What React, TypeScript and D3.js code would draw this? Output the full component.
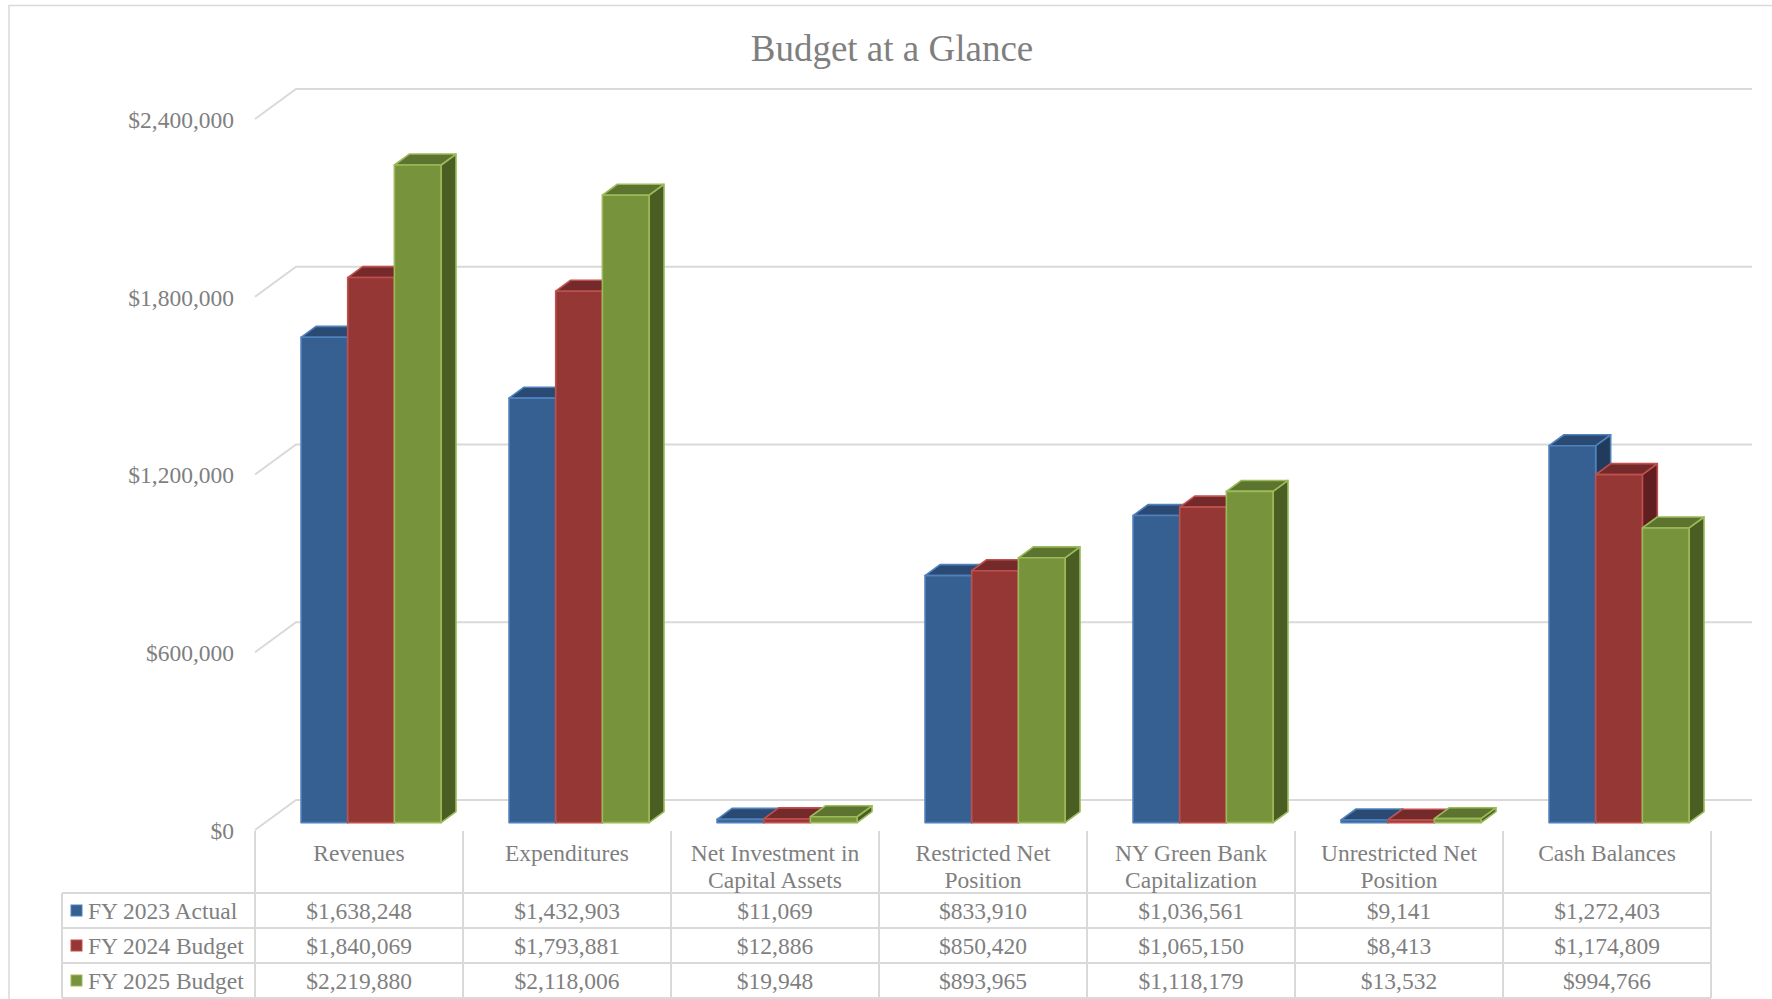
import * as d3 from "d3";
import { useEffect, useRef } from "react";

// chart data
const categories = [
  "Revenues",
  "Expenditures",
  "Net Investment in Capital Assets",
  "Restricted Net Position",
  "NY Green Bank Capitalization",
  "Unrestricted Net Position",
  "Cash Balances",
];
const seriesNames = ["FY 2023 Actual", "FY 2024 Budget", "FY 2025 Budget"];
const fy2023Actual = [1638248, 1432903, 11069, 833910, 1036561, 9141, 1272403];
const fy2024Budget = [1840069, 1793881, 12886, 850420, 1065150, 8413, 1174809];
const fy2025Budget = [2219880, 2118006, 19948, 893965, 1118179, 13532, 994766];
const yTicks = [0, 600000, 1200000, 1800000, 2400000];

const seriesValues = [fy2023Actual, fy2024Budget, fy2025Budget];

// face colours per series: front, top, side, outline
const palette = [
  { front: "#376092", top: "#2b4a73", side: "#213b5c", line: "#4f81bd" },
  { front: "#953735", top: "#74292a", side: "#5f1f21", line: "#c0504d" },
  { front: "#77933c", top: "#5d7430", side: "#4a5e23", line: "#9bbb59" },
];

const WIDTH = 1772;
const HEIGHT = 999;
const FONT = "'Liberation Serif', 'Times New Roman', serif";
const TEXT = "#7f7f7f";
const GRID = "#d9d9d9";
const TY = 3.5; // nudge for text vertical centring

// floor / depth geometry
const FLOOR_X0 = 255;
const FLOOR_X1 = 1711;
const DX = 41;
const DY = -30;
const T1 = 0.245; // bar front plane
const T2 = 0.61; // bar back plane

const fmt = (v: number) => "$" + d3.format(",")(v);

const BudgetChart = () => {
  const svgRef = useRef<SVGSVGElement>(null);

  useEffect(() => {
    const svg = d3.select(svgRef.current);
    svg.selectAll("*").remove();

    const y = d3.scaleLinear().domain([0, 2400000]).range([830, 119]);
    const x = d3.scaleBand().domain(categories).range([FLOOR_X0, FLOOR_X1]);
    const xs = d3.scaleBand().domain(seriesNames).range([-70, 70]);

    // outer border
    svg
      .append("rect")
      .attr("x", 9)
      .attr("y", 5.5)
      .attr("width", WIDTH + 20)
      .attr("height", HEIGHT + 20)
      .attr("fill", "white")
      .attr("stroke", GRID)
      .attr("stroke-width", 1.5);

    // title
    svg
      .append("text")
      .attr("x", 892)
      .attr("y", 49 + TY)
      .attr("text-anchor", "middle")
      .attr("dominant-baseline", "middle")
      .attr("font-family", FONT)
      .attr("font-size", 37)
      .attr("fill", TEXT)
      .text("Budget at a Glance");

    // gridlines: back wall + left diagonal
    const grid = svg.append("g").attr("stroke", GRID).attr("stroke-width", 2).attr("fill", "none");
    yTicks.forEach((t) => {
      const yy = y(t);
      grid
        .append("path")
        .attr("d", `M${FLOOR_X0},${yy}L${FLOOR_X0 + DX},${yy + DY}L${FLOOR_X1 + DX},${yy + DY}`);
    });

    // y labels
    svg
      .append("g")
      .selectAll("text")
      .data(yTicks)
      .join("text")
      .attr("x", 234)
      .attr("y", (d) => y(d) + TY)
      .attr("text-anchor", "end")
      .attr("dominant-baseline", "middle")
      .attr("font-family", FONT)
      .attr("font-size", 23.5)
      .attr("fill", TEXT)
      .text((d) => fmt(d));

    // bars
    const bars = svg.append("g").attr("stroke-width", 1.6).attr("stroke-linejoin", "round");
    const fx = T1 * DX + 2;
    const fy = T1 * DY;
    const bdx = (T2 - T1) * DX;
    const bdy = (T2 - T1) * DY;
    categories.forEach((c, i) => {
      seriesNames.forEach((s, j) => {
        const v = seriesValues[j][i];
        const col = palette[j];
        const L = (x(c) as number) + x.bandwidth() / 2 + (xs(s) as number) + fx;
        const R = L + xs.bandwidth();
        const yt = y(v) + fy;
        const yb = y(0) + fy;
        bars
          .append("polygon")
          .attr("points", [[R, yt], [R + bdx, yt + bdy], [R + bdx, yb + bdy], [R, yb]].join(" "))
          .attr("fill", col.side)
          .attr("stroke", col.line);
        bars
          .append("polygon")
          .attr("points", [[L, yt], [R, yt], [R + bdx, yt + bdy], [L + bdx, yt + bdy]].join(" "))
          .attr("fill", col.top)
          .attr("stroke", col.line);
        bars
          .append("rect")
          .attr("x", L)
          .attr("y", yt)
          .attr("width", R - L)
          .attr("height", yb - yt)
          .attr("fill", col.front)
          .attr("stroke", col.line);
      });
    });

    // data table
    const headTop = 831;
    const rowTop = 893;
    const rowH = 35;
    const tableLeft = 62;
    const tbl = svg.append("g").attr("stroke", GRID).attr("stroke-width", 2);
    d3.range(4).forEach((k) => {
      tbl
        .append("line")
        .attr("x1", tableLeft)
        .attr("x2", FLOOR_X1)
        .attr("y1", rowTop + k * rowH)
        .attr("y2", rowTop + k * rowH);
    });
    tbl
      .append("line")
      .attr("x1", tableLeft)
      .attr("x2", tableLeft)
      .attr("y1", rowTop)
      .attr("y2", rowTop + 3 * rowH);
    d3.range(categories.length + 1).forEach((k) => {
      const xx = FLOOR_X0 + k * x.step();
      tbl
        .append("line")
        .attr("x1", xx)
        .attr("x2", xx)
        .attr("y1", headTop)
        .attr("y2", rowTop + 3 * rowH);
    });

    // category headers, wrapped to the column
    const head = svg
      .append("g")
      .attr("font-family", FONT)
      .attr("font-size", 23.5)
      .attr("fill", TEXT)
      .attr("text-anchor", "middle");
    categories.forEach((c) => {
      const cx = (x(c) as number) + x.bandwidth() / 2;
      const t = head.append("text").attr("x", cx).attr("y", 852 + TY).attr("dominant-baseline", "middle");
      const words = c.split(" ");
      const lines: string[] = [];
      let cur = "";
      words.forEach((w) => {
        const test = cur ? cur + " " + w : w;
        t.text(test);
        if (cur && (t.node() as SVGTextElement).getComputedTextLength() > 192) {
          lines.push(cur);
          cur = w;
        } else {
          cur = test;
        }
      });
      lines.push(cur);
      t.text(null);
      lines.forEach((ln, k) => {
        t.append("tspan").attr("x", cx).attr("y", 852 + TY + k * 27).text(ln);
      });
    });

    // table rows
    seriesNames.forEach((s, j) => {
      const cy = rowTop + j * rowH + rowH / 2;
      svg
        .append("rect")
        .attr("x", 71)
        .attr("y", cy - 5.5)
        .attr("width", 11)
        .attr("height", 11)
        .attr("fill", palette[j].front)
        .attr("stroke", palette[j].line)
        .attr("stroke-width", 1);
      svg
        .append("text")
        .attr("x", 88)
        .attr("y", cy + TY)
        .attr("dominant-baseline", "middle")
        .attr("font-family", FONT)
        .attr("font-size", 23.5)
        .attr("fill", TEXT)
        .text(s);
      svg
        .append("g")
        .selectAll("text")
        .data(seriesValues[j])
        .join("text")
        .attr("x", (_d, i) => (x(categories[i]) as number) + x.bandwidth() / 2)
        .attr("y", cy + TY)
        .attr("text-anchor", "middle")
        .attr("dominant-baseline", "middle")
        .attr("font-family", FONT)
        .attr("font-size", 23.5)
        .attr("fill", TEXT)
        .text((d) => fmt(d));
    });
  }, []);

  return (
    <svg
      ref={svgRef}
      width={WIDTH}
      height={HEIGHT}
      style={{ position: "absolute", left: 0, top: 0, display: "block", background: "white" }}
    ></svg>
  );
};

export default function App() {
  return <BudgetChart />;
}
